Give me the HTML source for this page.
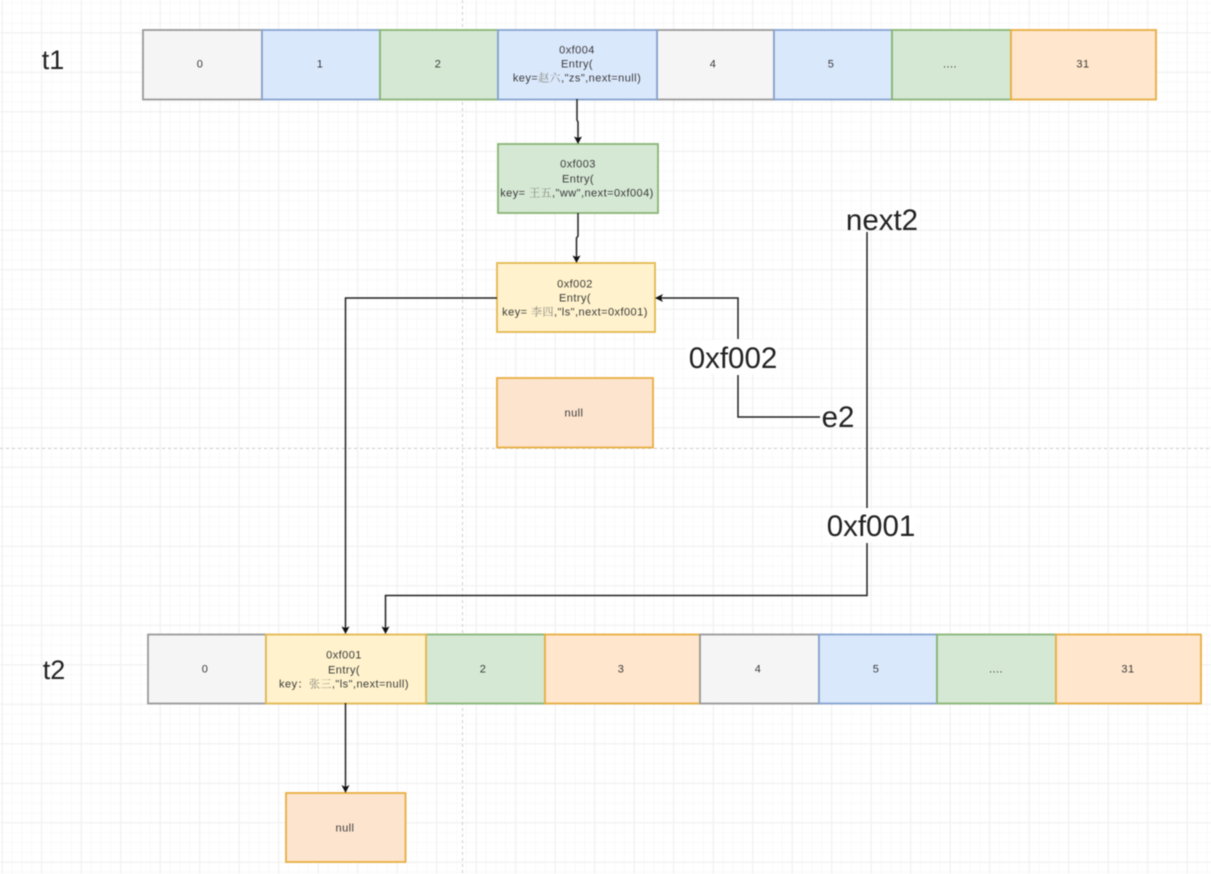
<!DOCTYPE html>
<html><head><meta charset="utf-8">
<style>
html,body{margin:0;padding:0;background:#fff;width:1211px;height:874px;overflow:hidden}
svg{display:block;position:absolute;left:0;top:0;filter:blur(0.45px)}
.s{font-family:"Liberation Sans","Noto Serif CJK SC",sans-serif;font-size:11px;letter-spacing:.45px;fill:#3a3a3a;text-anchor:middle}
.k{font-family:"Noto Serif CJK SC","Liberation Serif",serif;fill:#8a8a80}
.l{font-family:"Liberation Sans",sans-serif;font-size:29.5px;fill:#222;text-anchor:middle}
.t{font-size:27px}
.r{stroke-width:1.8}
.gr{fill:#f5f5f5;stroke:#999}.bl{fill:#dae8fc;stroke:#86a3cf}.gn{fill:#d5e8d4;stroke:#88b574}
.or{fill:#ffe6cc;stroke:#e8ae40}.ye{fill:#fff2cc;stroke:#e3b850}.od{fill:#fde4ce;stroke:#e8ae40}
.c{fill:none;stroke:#222;stroke-width:1.5}
.h{fill:#111}
</style></head><body>
<svg width="1211" height="874" viewBox="0 0 1211 874" xmlns="http://www.w3.org/2000/svg">
<defs>
<pattern id="m" x="1.7" y="-7.2" width="9.875" height="9.875" patternUnits="userSpaceOnUse"><path d="M0.5 0V9.875M0 0.5H9.875" fill="none" stroke="#f9f9f9" stroke-width="1"/></pattern>
<pattern id="M" x="1.7" y="-7.2" width="39.5" height="39.5" patternUnits="userSpaceOnUse"><path d="M0.5 0V39.5M0 0.5H39.5" fill="none" stroke="#efefef" stroke-width="1"/></pattern>
</defs>
<rect width="1211" height="874" fill="url(#m)"/>
<rect width="1211" height="874" fill="url(#M)"/>
<path d="M462.5 0V874M0 448.5H1211" stroke="#cfcfcf" stroke-width="1" stroke-dasharray="3 3" fill="none"/>

<g class="r">
<rect class="gr" x="143" y="30" width="119" height="69.500"/>
<rect class="bl" x="262" y="30" width="118" height="69.500"/>
<rect class="gn" x="380" y="30" width="118" height="69.500"/>
<rect class="gr" x="657" y="30" width="117" height="69.500"/>
<rect class="bl" x="498" y="30" width="159" height="69.500"/>
<rect class="bl" x="774" y="30" width="118" height="69.500"/>
<rect class="gn" x="892" y="30" width="119" height="69.500"/>
<rect class="or" x="1011" y="30" width="145" height="69.500"/>

<rect class="gn" x="498" y="144" width="160" height="69"/>
<rect class="ye" x="497" y="263" width="158" height="69"/>
<rect class="od" x="497" y="378" width="156" height="69.500"/>

<rect class="gr" x="148" y="634.500" width="118" height="69"/>
<rect class="gn" x="426" y="634.500" width="119" height="69"/>
<rect class="or" x="545" y="634.500" width="155" height="69"/>
<rect class="gr" x="700" y="634.500" width="119" height="69"/>
<rect class="bl" x="819" y="634.500" width="118" height="69"/>
<rect class="gn" x="937" y="634.500" width="119" height="69"/>
<rect class="or" x="1056" y="634.500" width="145" height="69"/>
<rect class="ye" x="266" y="634.500" width="160" height="69"/>
<rect class="od" x="286" y="793" width="119.500" height="69"/>
</g>

<path class="c" d="M577 99V120L578 122V138"/>
<path class="h" d="M574 136.500L578 138L582 136.500L578 144Z"/>
<path class="c" d="M578 213V236L576.500 238V257"/>
<path class="h" d="M572.500 255.500L576.500 257L580.500 255.500L576.500 263Z"/>
<path class="c" d="M497 298H345.500V628"/>
<path class="h" d="M341.500 626.500L345.500 628L349.500 626.500L345.500 634Z"/>
<path class="c" d="M738 375V417H820M738 339V298H661"/>
<path class="h" d="M663 294L661 298L663 302L655 298Z"/>
<path class="c" d="M867 232V508M867 543V595.500H385.500V628"/>
<path class="h" d="M381.500 626.500L385.500 628L389.500 626.500L385.500 634Z"/>
<path class="c" d="M345.500 703V787"/>
<path class="h" d="M341.500 785L345.500 787L349.500 785L345.500 793Z"/>

<text class="l t" x="53" y="69">t1</text>
<text class="l t" x="54" y="679">t2</text>
<text class="l" x="882" y="230">next2</text>
<text class="l" x="838" y="427">e2</text>
<rect x="686" y="340" width="92" height="34" fill="#fff"/>
<text class="l" x="733" y="368">0xf002</text>
<rect x="826" y="509" width="90" height="33" fill="#fff"/>
<text class="l" x="871" y="536">0xf001</text>

<g transform="translate(0 .5)">
<text class="s" x="200" y="67">0</text>
<text class="s" x="320" y="67">1</text>
<text class="s" x="438" y="67">2</text>
<text class="s" x="577" y="53">0xf004</text>
<text class="s" x="577" y="67">Entry(</text>
<text class="s" x="577" y="81">key=<tspan class="k">赵六</tspan>,"zs",next=null)</text>
<text class="s" x="713" y="67">4</text>
<text class="s" x="831" y="67">5</text>
<text class="s" x="950" y="67">....</text>
<text class="s" x="1083" y="67">31</text>

<text class="s" x="578" y="167">0xf003</text>
<text class="s" x="578" y="182">Entry(</text>
<text class="s" x="577" y="196">key= <tspan class="k">王五</tspan>,"ww",next=0xf004)</text>

<text class="s" x="575" y="287">0xf002</text>
<text class="s" x="575" y="301">Entry(</text>
<text class="s" x="575" y="315">key= <tspan class="k">李四</tspan>,"ls",next=0xf001)</text>
<text class="s" x="574" y="416">null</text>

<text class="s" x="205" y="672">0</text>
<text class="s" x="344" y="658">0xf001</text>
<text class="s" x="344" y="673">Entry(</text>
<text class="s" x="344" y="687">key：<tspan class="k">张三</tspan>,"ls",next=null)</text>
<text class="s" x="483" y="672">2</text>
<text class="s" x="621" y="672">3</text>
<text class="s" x="758" y="672">4</text>
<text class="s" x="876" y="672">5</text>
<text class="s" x="996" y="672">....</text>
<text class="s" x="1128" y="672">31</text>
<text class="s" x="345" y="831">null</text>
</g>
</svg>
</body></html>
